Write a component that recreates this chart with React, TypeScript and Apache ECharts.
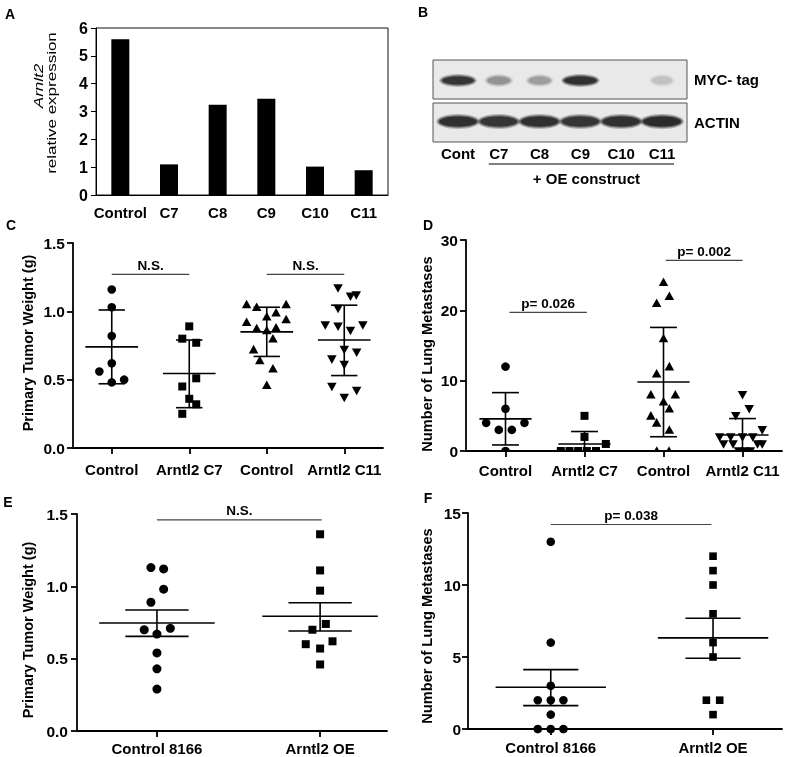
import React, { useEffect, useRef } from "react";
import * as echarts from "echarts";

const FONT = "'Liberation Sans', Arial, Helvetica, sans-serif";

// ---------- Panel A ----------
const aCategories = ["Control", "C7", "C8", "C9", "C10", "C11"];
const aValues = [5.6, 1.1, 3.24, 3.46, 1.02, 0.89];

// ---------- Panel B (western blot) ----------
const bLanes = ["Cont", "C7", "C8", "C9", "C10", "C11"];
const bMycIntensity = [0.85, 0.3, 0.25, 0.9, 0, 0.12];
const bActinIntensity = [0.9, 0.85, 0.9, 0.85, 0.9, 0.95];
const bRowLabels = ["MYC- tag", "ACTIN"];
const bGroupLabel = "+ OE construct";

// ---------- Panel C ----------
const cCategories = ["Control", "Arntl2 C7", "Control", "Arntl2 C11"];
const cControlA = [[0, 1.16], [0, 1.03], [0, 0.82], [0, 0.62], [-0.16, 0.56], [0, 0.48], [0.16, 0.5]];
const cC7 = [[1, 0.89], [0.91, 0.8], [1.09, 0.77], [1.09, 0.51], [0.91, 0.45], [1, 0.36], [1.09, 0.32], [0.91, 0.25]];
const cControlB = [[1.74, 1.05], [1.87, 1.03], [2.25, 1.05], [2.12, 0.99], [2, 0.96], [2.25, 0.94], [1.74, 0.92], [1.87, 0.875], [2, 0.86], [2.12, 0.88], [2.08, 0.8], [1.83, 0.72], [1.91, 0.64], [2.08, 0.58], [2, 0.46]];
const cC11 = [[2.92, 1.17], [3.08, 1.11], [3.155, 1.12], [2.92, 1.02], [2.755, 0.9], [2.92, 0.89], [3.08, 0.86], [3.24, 0.9], [3, 0.72], [3.16, 0.7], [2.84, 0.65], [3, 0.61], [2.84, 0.45], [3.16, 0.42], [3, 0.37]];
const cSummary = [[0.74, 0.47, 1.01], [0.545, 0.295, 0.79], [0.85, 0.67, 1.03], [0.79, 0.53, 1.045]]; // mean, low, high
const cBrackets = [[0, 1, 1.27], [2, 3, 1.27]];
const cBracketText = ["N.S.", "N.S."];

// ---------- Panel D ----------
const dCategories = ["Control", "Arntl2 C7", "Control", "Arntl2 C11"];
const dControlA = [[0, 12], [0, 6], [-0.245, 4], [0.24, 4], [-0.085, 3], [0.08, 3], [0, 0]];
const dC7 = [[1, 5], [1, 2], [1.27, 1], [0.7, 0], [0.81, 0], [0.92, 0], [1.03, 0], [1.146, 0]];
const dControlB = [[2, 24], [1.913, 21], [2.074, 22], [2, 16], [1.913, 11], [2.074, 12], [1.84, 8], [2.15, 8], [2, 7], [2.074, 6], [1.84, 5], [1.913, 4], [2.074, 3], [1.914, 0], [2.07, 0]];
const dC11 = [[3, 8], [3.085, 6], [2.915, 5], [3.25, 3], [2.71, 2], [2.85, 2], [3, 2], [3.13, 2], [2.76, 1], [2.88, 1], [3.19, 1], [3.25, 1], [2.95, 0], [3.03, 0], [3.1, 0]];
const dSummary = [[4.57, 0.86, 8.3], [1.0, -0.77, 2.77], [9.8, 2.03, 17.57], [2.27, -0.07, 4.61]];
const dBrackets = [[0.05, 1.03, 19.7], [2.03, 3, 27.1]];
const dBracketText = ["p= 0.026", "p= 0.002"];

// ---------- Panel E ----------
const eCategories = ["Control 8166", "Arntl2 OE"];
const eControl = [[-0.037, 1.13], [0.041, 1.12], [0.041, 0.98], [-0.037, 0.89], [0.082, 0.71], [-0.078, 0.7], [0, 0.67], [0, 0.54], [0, 0.43], [0, 0.29]];
const eOE = [[1, 1.36], [1, 1.11], [1, 0.97], [1.035, 0.74], [0.953, 0.7], [1.076, 0.62], [0.912, 0.6], [1, 0.57], [1, 0.46]];
const eSummary = [[0.747, 0.654, 0.836], [0.793, 0.691, 0.887]];
const eBrackets = [[0, 1.01, 1.46]];
const eBracketText = ["N.S."];

// ---------- Panel F ----------
const fCategories = ["Control 8166", "Arntl2 OE"];
const fControl = [[0, 13], [0, 6], [0, 3], [-0.08, 2], [0, 2], [0.078, 2], [0, 1], [-0.08, 0], [0, 0], [0.078, 0]];
const fOE = [[1, 12], [1, 11], [1, 10], [1, 8], [1, 6], [1, 5], [0.959, 2], [1.041, 2], [1, 1]];
const fSummary = [[2.9, 1.62, 4.12], [6.33, 4.91, 7.69]];
const fBrackets = [[0, 0.99, 14.2]];
const fBracketText = ["p= 0.038"];

const BLACK = "#000";

function symbolSeries(grid: number, data: number[][], shape: string, size: number, clip: boolean) {
  return {
    type: "custom",
    xAxisIndex: grid,
    yAxisIndex: grid,
    clip,
    data,
    z: 3,
    renderItem: (_params: any, api: any) => {
      const p = api.coord([api.value(0), api.value(1)]);
      const h = size / 2;
      const style = { fill: BLACK };
      if (shape === "circle") return { type: "circle", shape: { cx: p[0], cy: p[1], r: h }, style };
      if (shape === "square") return { type: "rect", shape: { x: p[0] - h, y: p[1] - h, width: size, height: size }, style };
      if (shape === "up")
        return { type: "polygon", shape: { points: [[p[0], p[1] - h], [p[0] + h, p[1] + h * 0.8], [p[0] - h, p[1] + h * 0.8]] }, style };
      return { type: "polygon", shape: { points: [[p[0] - h, p[1] - h * 0.8], [p[0] + h, p[1] - h * 0.8], [p[0], p[1] + h]] }, style };
    },
  };
}

function summarySeries(grid: number, summary: number[][], meanHalf: number, capHalf: number, clip: boolean) {
  return {
    type: "custom",
    xAxisIndex: grid,
    yAxisIndex: grid,
    clip,
    z: 4,
    data: summary.map((s, i) => [i, s[0], s[1], s[2]]),
    renderItem: (_params: any, api: any) => {
      const x = api.value(0);
      const m = api.coord([x, api.value(1)]);
      const lo = api.coord([x, api.value(2)]);
      const hi = api.coord([x, api.value(3)]);
      const unit = api.size([1, 0])[0];
      const mw = meanHalf * unit;
      const cw = capHalf * unit;
      const st = { stroke: BLACK, lineWidth: 1.6 };
      return {
        type: "group",
        children: [
          { type: "line", shape: { x1: m[0] - mw, y1: m[1], x2: m[0] + mw, y2: m[1] }, style: st },
          { type: "line", shape: { x1: lo[0], y1: lo[1], x2: hi[0], y2: hi[1] }, style: st },
          { type: "line", shape: { x1: lo[0] - cw, y1: lo[1], x2: lo[0] + cw, y2: lo[1] }, style: st },
          { type: "line", shape: { x1: hi[0] - cw, y1: hi[1], x2: hi[0] + cw, y2: hi[1] }, style: st },
        ],
      };
    },
  };
}

function bracketSeries(grid: number, brackets: number[][], texts: string[]) {
  return {
    type: "custom",
    xAxisIndex: grid,
    yAxisIndex: grid,
    clip: false,
    z: 4,
    data: brackets,
    renderItem: (params: any, api: any) => {
      const a = api.coord([api.value(0), api.value(2)]);
      const b = api.coord([api.value(1), api.value(2)]);
      return {
        type: "group",
        children: [
          { type: "line", shape: { x1: a[0], y1: a[1], x2: b[0], y2: b[1] }, style: { stroke: "#444", lineWidth: 1.2 } },
          {
            type: "text",
            x: (a[0] + b[0]) / 2,
            y: a[1] - 9,
            style: {
              text: texts[params.dataIndex],
              textAlign: "center",
              textVerticalAlign: "middle",
              fontSize: 13.5,
              fontWeight: "bold",
              fontFamily: FONT,
              fill: BLACK,
            },
          },
        ],
      };
    },
  };
}

const axisLineStyle = { color: BLACK, width: 1.8 };

function yAxisDef(grid: number, min: number, max: number, interval: number, fmt: (v: number) => string, margin: number) {
  return {
    type: "value",
    gridIndex: grid,
    min,
    max,
    interval,
    axisLine: { show: true, onZero: false, lineStyle: axisLineStyle },
    axisTick: { show: true, length: 6, lineStyle: axisLineStyle },
    axisLabel: { color: BLACK, fontWeight: "bold", fontSize: 15.5, fontFamily: FONT, margin, formatter: fmt },
    splitLine: { show: false },
  };
}

function xAxisDef(grid: number, min: number, max: number, labels: string[], margin: number) {
  const ticks = labels.map((_, i) => i);
  return {
    type: "value",
    gridIndex: grid,
    min,
    max,
    axisLine: { show: true, onZero: false, lineStyle: axisLineStyle },
    axisTick: { show: true, length: 6, customValues: ticks, lineStyle: axisLineStyle },
    axisLabel: {
      customValues: ticks,
      color: BLACK,
      fontWeight: "bold",
      fontSize: 15,
      fontFamily: FONT,
      margin,
      formatter: (v: number) => labels[Math.round(v)] ?? "",
    },
    splitLine: { show: false },
  };
}

function textEl(text: string, x: number, y: number, opts: any = {}) {
  return {
    type: "text",
    x,
    y,
    rotation: opts.rotation ?? 0,
    scaleY: opts.scaleY ?? 1,
    style: {
      text,
      fill: BLACK,
      fontFamily: FONT,
      fontSize: opts.fontSize ?? 15,
      fontWeight: opts.fontWeight ?? "bold",
      fontStyle: opts.fontStyle ?? "normal",
      textAlign: opts.align ?? "center",
      textVerticalAlign: "middle",
    },
  };
}

function blotElements() {
  const els: any[] = [];
  const boxLeft = 433;
  const boxWidth = 254;
  const rows = [
    { top: 60, height: 39, intens: bMycIntensity, ry: 4, rxBase: 9, rxScale: 8 },
    { top: 103, height: 39, intens: bActinIntensity, ry: 5, rxBase: 16, rxScale: 3 },
  ];
  const laneX = (i: number) => boxLeft + 25 + (i * (boxWidth - 50)) / (bLanes.length - 1);
  rows.forEach((r, ri) => {
    els.push({
      type: "rect",
      shape: { x: boxLeft, y: r.top, width: boxWidth, height: r.height },
      style: { fill: "#e9e9e9", stroke: "#555", lineWidth: 1 },
    });
    const cy = r.top + r.height / 2 + (ri === 0 ? 1 : -1);
    r.intens.forEach((a, i) => {
      if (a <= 0) return;
      const rx = r.rxBase + r.rxScale * a;
      const layers = [
        { dx: 3, dy: 2.5, o: 0.3 },
        { dx: 1.5, dy: 1.2, o: 0.5 },
        { dx: 0, dy: 0, o: 0.8 },
      ];
      layers.forEach((l) => {
        els.push({
          type: "ellipse",
          shape: { cx: laneX(i), cy, rx: rx + l.dx, ry: r.ry + l.dy },
          style: { fill: `rgba(25,25,25,${(l.o * a).toFixed(3)})` },
        });
      });
    });
    els.push(textEl(bRowLabels[ri], boxLeft + boxWidth + 7, r.top + r.height / 2, { align: "left", fontSize: 15 }));
  });
  bLanes.forEach((l, i) => els.push(textEl(l, laneX(i), 153, { fontSize: 15 })));
  const x1 = laneX(1) - 10;
  const x2 = laneX(5) + 12;
  els.push({ type: "line", shape: { x1, y1: 164, x2, y2: 164 }, style: { stroke: BLACK, lineWidth: 1 } });
  els.push(textEl(bGroupLabel, (x1 + x2) / 2 + 5, 178, { fontSize: 15 }));
  return els;
}

export default function App() {
  const ref = useRef<HTMLDivElement>(null);
  useEffect(() => {
    if (!ref.current) return;
    const chart = echarts.init(ref.current, null, { renderer: "svg" });
    const fmt1 = (v: number) => v.toFixed(1);
    const fmt0 = (v: number) => String(v);
    const option: any = {
      animation: false,
      textStyle: { fontFamily: FONT },
      grid: [
        { left: 96, top: 28, width: 292, height: 167, show: true, borderColor: "#111", borderWidth: 1, backgroundColor: "transparent" },
        { left: 73, top: 243, width: 310, height: 205 },
        { left: 466, top: 240, width: 316, height: 211 },
        { left: 77, top: 514, width: 310, height: 217 },
        { left: 468, top: 513, width: 314, height: 216 },
      ],
      xAxis: [
        {
          type: "category",
          gridIndex: 0,
          data: aCategories,
          boundaryGap: true,
          axisLine: { lineStyle: { color: BLACK, width: 1 } },
          axisTick: { length: 5, lineStyle: { color: BLACK, width: 1 } },
          axisLabel: { color: BLACK, fontWeight: "bold", fontSize: 15, fontFamily: FONT, margin: 10, interval: 0 },
        },
        xAxisDef(1, -0.5, 3.5, cCategories, 14),
        xAxisDef(2, -0.5, 3.5, dCategories, 12),
        xAxisDef(3, -0.49, 1.41, eCategories, 10),
        xAxisDef(4, -0.51, 1.425, fCategories, 11),
      ],
      yAxis: [
        {
          type: "value",
          gridIndex: 0,
          min: 0,
          max: 6,
          interval: 1,
          axisLine: { show: true, onZero: false, lineStyle: { color: BLACK, width: 1 } },
          axisTick: { show: true, length: 5, lineStyle: { color: BLACK, width: 1 } },
          axisLabel: { color: BLACK, fontWeight: "bold", fontSize: 16, fontFamily: FONT, margin: 8 },
          splitLine: { show: false },
        },
        yAxisDef(1, 0, 1.5, 0.5, fmt1, 8),
        yAxisDef(2, 0, 30, 10, fmt0, 8),
        yAxisDef(3, 0, 1.5, 0.5, fmt1, 9),
        yAxisDef(4, 0, 15, 5, fmt0, 7),
      ],
      series: [
        { type: "bar", xAxisIndex: 0, yAxisIndex: 0, data: aValues, barWidth: 18, itemStyle: { color: BLACK } },

        symbolSeries(1, cControlA, "circle", 8.6, false),
        symbolSeries(1, cC7, "square", 8, false),
        symbolSeries(1, cControlB, "up", 9.5, false),
        symbolSeries(1, cC11, "down", 9.5, false),
        summarySeries(1, cSummary, 0.34, 0.17, false),
        bracketSeries(1, cBrackets, cBracketText),

        symbolSeries(2, dControlA, "circle", 8.6, true),
        symbolSeries(2, dC7, "square", 8, true),
        symbolSeries(2, dControlB, "up", 9.5, true),
        symbolSeries(2, dC11, "down", 9.5, true),
        summarySeries(2, dSummary, 0.33, 0.17, true),
        bracketSeries(2, dBrackets, dBracketText),

        symbolSeries(3, eControl, "circle", 9, false),
        symbolSeries(3, eOE, "square", 8, false),
        summarySeries(3, eSummary, 0.354, 0.194, false),
        bracketSeries(3, eBrackets, eBracketText),

        symbolSeries(4, fControl, "circle", 8.6, false),
        symbolSeries(4, fOE, "square", 7.6, false),
        summarySeries(4, fSummary, 0.34, 0.17, false),
        bracketSeries(4, fBrackets, fBracketText),
      ],
      graphic: {
        elements: [
          textEl("A", 10, 14, { fontSize: 14 }),
          textEl("B", 423, 12, { fontSize: 14 }),
          textEl("C", 11, 225, { fontSize: 14 }),
          textEl("D", 428, 225, { fontSize: 14 }),
          textEl("E", 8, 502, { fontSize: 14 }),
          textEl("F", 428, 498, { fontSize: 14 }),
          textEl("Arnlt2", 38, 86, { rotation: Math.PI / 2, fontSize: 17, fontWeight: "normal", fontStyle: "italic", scaleY: 0.75 }),
          textEl("relative expression", 51, 103, { rotation: Math.PI / 2, fontSize: 17, fontWeight: "normal", scaleY: 0.75 }),
          textEl("Primary Tumor Weight (g)", 27.5, 343, { rotation: Math.PI / 2, fontSize: 14.5 }),
          textEl("Number of Lung Metastases", 427, 354, { rotation: Math.PI / 2, fontSize: 14.6 }),
          textEl("Primary Tumor Weight (g)", 27.5, 630, { rotation: Math.PI / 2, fontSize: 14.5 }),
          textEl("Number of Lung Metastases", 427, 626, { rotation: Math.PI / 2, fontSize: 14.6 }),
          ...blotElements(),
        ],
      },
    };
    chart.setOption(option);
    return () => chart.dispose();
  }, []);
  return <div ref={ref} style={{ position: "fixed", left: 0, top: 0, width: 800, height: 757 }} />;
}
